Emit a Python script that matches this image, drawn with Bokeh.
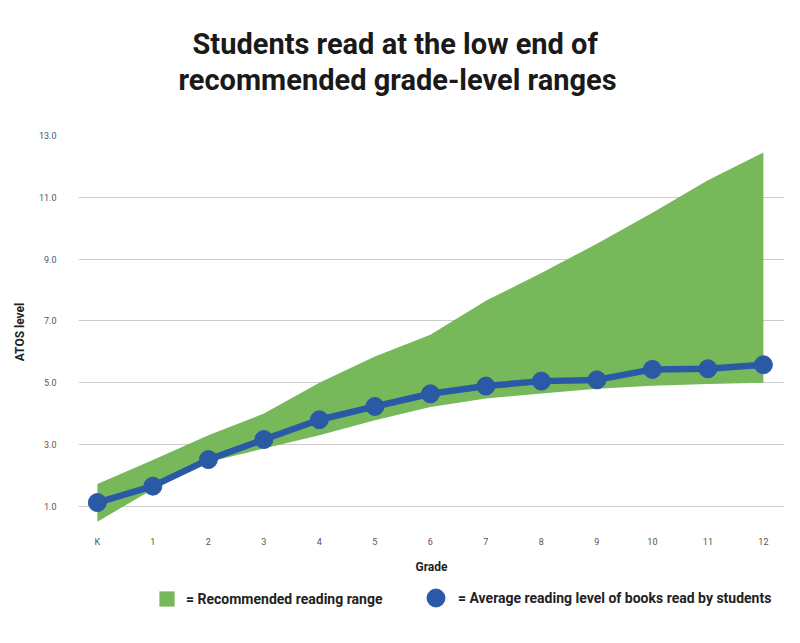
from bokeh.plotting import figure
from bokeh.layouts import column
from bokeh.models import Title, Legend, LegendItem, FixedTicker, Range1d, ColumnDataSource
from bokeh.embed import file_html
from bokeh.resources import INLINE

grades = ["K", "1", "2", "3", "4", "5", "6", "7", "8", "9", "10", "11", "12"]
range_low = [0.5, 1.55, 2.43, 2.87, 3.3, 3.78, 4.21, 4.49, 4.65, 4.8, 4.9, 4.96, 5.0]
range_high = [1.72, 2.5, 3.3, 4.0, 5.0, 5.85, 6.55, 7.65, 8.55, 9.5, 10.5, 11.55, 12.45]
avg_level = [1.12, 1.65, 2.51, 3.16, 3.8, 4.23, 4.64, 4.89, 5.05, 5.09, 5.43, 5.45, 5.58]
y_ticks = [1, 3, 5, 7, 9, 11, 13]
y_tick_labels = ["1.0", "3.0", "5.0", "7.0", "9.0", "11.0", "13.0"]
title_lines = ["Students read at the low end of", "recommended grade-level ranges"]
legend_labels = ["= Recommended reading range", "= Average reading level of books read by students"]

GREEN = "#77b85a"
BLUE = "#2a5aa6"
FONT = "Roboto"

idx = list(range(len(grades)))
src = ColumnDataSource(dict(x=idx, low=range_low, high=range_high, avg=avg_level))

p = figure(frame_width=706, frame_height=393, output_backend="svg", toolbar_location=None,
           x_range=Range1d(-0.34, 12.38), y_range=Range1d(0.28, 13.0),
           min_border_left=78, min_border_right=4, min_border_top=135, min_border_bottom=52)
p.outline_line_color = None
p.background_fill_color = "white"

p.varea(x="x", y1="low", y2="high", source=src, fill_color=GREEN, fill_alpha=1.0)
p.line(x="x", y="avg", source=src, line_color=BLUE, line_width=6.5)
p.scatter(x="x", y="avg", source=src, size=18, fill_color=BLUE, line_color=BLUE)

# title lines stacked above the frame (first added sits closest to the frame)
spacer = Title(text=" ", text_font=FONT, text_font_size="1px", standoff=36)
t2 = Title(text=title_lines[1], align="left", offset=100, text_font=FONT, text_font_size="29px",
           text_font_style="bold", text_color="#1a1a1a", standoff=0)
t1 = Title(text=title_lines[0], align="left", offset=114, text_font=FONT, text_font_size="29px",
           text_font_style="bold", text_color="#1a1a1a", standoff=0)
p.add_layout(spacer, "above")
p.add_layout(t2, "above")
p.add_layout(t1, "above")

# axes
p.yaxis.ticker = FixedTicker(ticks=y_ticks)
p.yaxis.major_label_overrides = {t: l for t, l in zip(y_ticks, y_tick_labels)}
p.xaxis.ticker = FixedTicker(ticks=idx)
p.xaxis.major_label_overrides = {i: g for i, g in zip(idx, grades)}
for ax in (p.xaxis, p.yaxis):
    ax.axis_line_color = None
    ax.major_tick_line_color = None
    ax.minor_tick_line_color = None
    ax.major_label_text_font = FONT
    ax.major_label_text_font_size = "9px"
    ax.major_label_text_color = "#555555"
    ax.axis_label_text_font = FONT
    ax.axis_label_text_font_style = "bold"
    ax.axis_label_text_font_size = "12px"
    ax.axis_label_text_color = "#222222"
p.yaxis.major_label_standoff = 16
p.xaxis.major_label_standoff = 2
p.yaxis.axis_label = "ATOS level"
p.xaxis.axis_label = "Grade"
p.yaxis.axis_label_standoff = 9
p.xaxis.axis_label_standoff = 10

p.xgrid.grid_line_color = None
p.ygrid.grid_line_color = "#cccccc"
p.ygrid.grid_line_width = 1.2

# legend strip below the chart (its renderers hold the same data, kept out of view)
p2 = figure(width=788, height=56, output_backend="svg", toolbar_location=None,
            x_range=Range1d(0, 1), y_range=Range1d(100, 101),
            x_axis_location=None, y_axis_location=None, min_border=0)
p2.outline_line_color = None
p2.grid.grid_line_color = None
src2 = ColumnDataSource(dict(x=idx, low=range_low, high=range_high, avg=avg_level))
lg_area = p2.varea(x="x", y1="low", y2="high", source=src2, fill_color=GREEN, fill_alpha=1.0)
lg_pts = p2.scatter(x="x", y="avg", source=src2, size=18, fill_color=BLUE, line_color=BLUE)

common = dict(orientation="horizontal", border_line_color=None, background_fill_alpha=0,
              label_text_font=FONT, label_text_font_style="bold", label_text_font_size="14px",
              label_text_color="#222222", margin=0, padding=0)
legend1 = Legend(items=[LegendItem(label=legend_labels[0], renderers=[lg_area], index=0)],
                 location=(79, 28), glyph_width=19, glyph_height=19, label_standoff=10, **common)
legend2 = Legend(items=[LegendItem(label=legend_labels[1], renderers=[lg_pts], index=0)],
                 location=(335, 16), glyph_width=45, glyph_height=45, label_standoff=-13, **common)
p2.add_layout(legend1)
p2.add_layout(legend2)

layout = column(p, p2, spacing=0)
open("out.html", "w").write(file_html(layout, INLINE))
